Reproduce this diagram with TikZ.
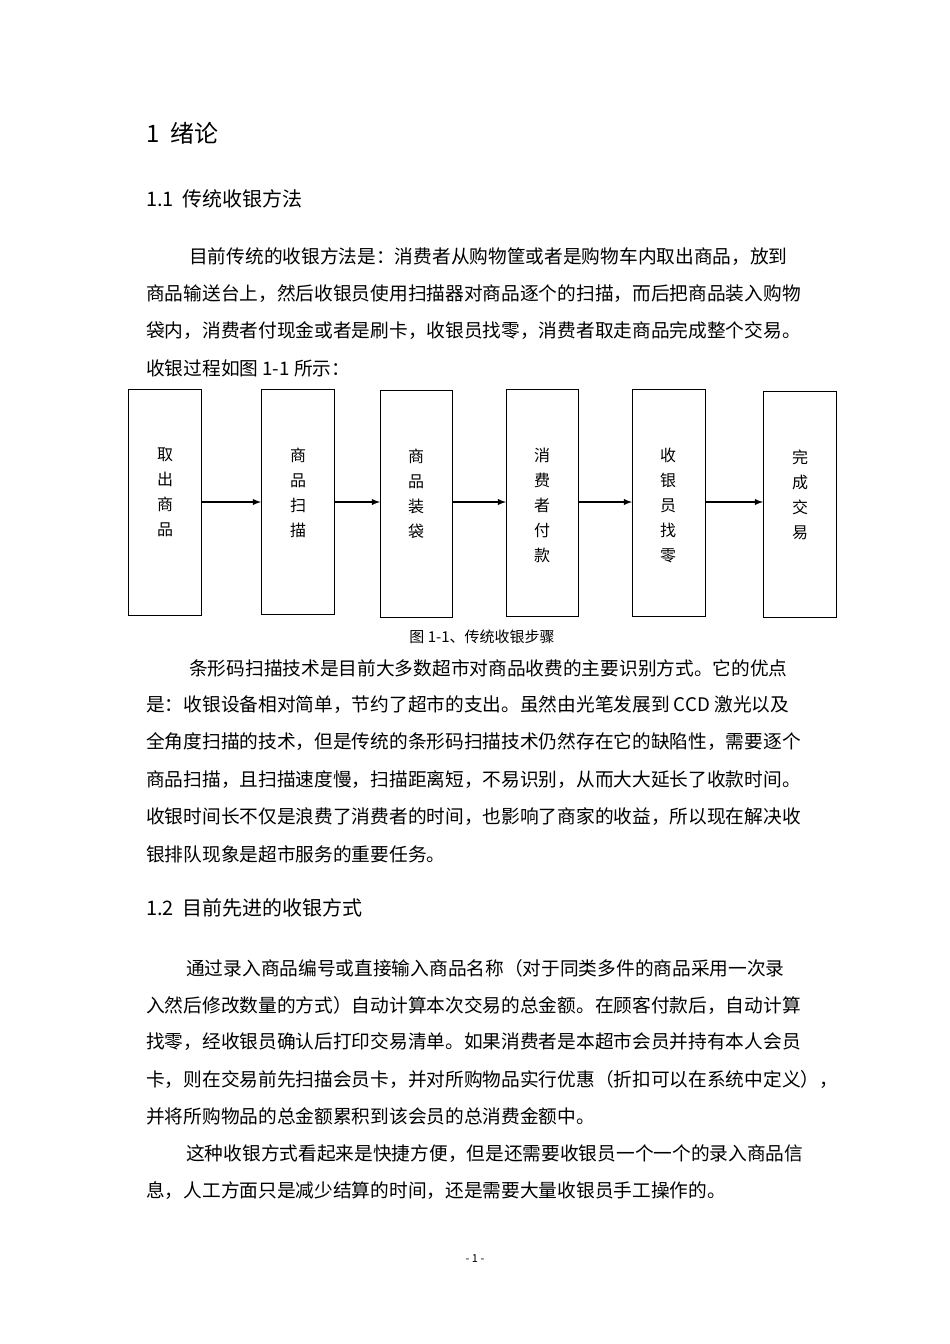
\documentclass[tikz,border=0pt]{standalone}
\usepackage{fontspec}
\setmainfont{Noto Sans CJK SC}
\begin{document}
\begin{tikzpicture}[x=1pt,y=-1pt,
  body/.style={anchor=west,inner sep=0,font=\fontsize{18.7}{20}\selectfont},
  stepbox/.style={draw,line width=0.9pt,minimum width=73pt,anchor=north west,inner sep=0},
  boxtxt/.style={align=center,anchor=north,inner sep=0,font=\fontsize{16}{25}\selectfont},
  arr/.style={-latex,line width=1.8pt}]
\useasboundingbox[fill=white] (0,0) rectangle (950,1344);
\node[body,font=\fontsize{24}{26}\selectfont] (h1) at (146,133) {1\ \ 绪论};
\node[body,font=\fontsize{20}{22}\selectfont] (h11) at (146,199) {1.1\ \ 传统收银方法};
\node[body] (p1) at (189,257) {目前传统的收银方法是：消费者从购物筐或者是购物车内取出商品，放到};
\node[body] (p2) at (146,294) {商品输送台上，然后收银员使用扫描器对商品逐个的扫描，而后把商品装入购物};
\node[body] (p3) at (146,331) {袋内，消费者付现金或者是刷卡，收银员找零，消费者取走商品完成整个交易。};
\node[body] (p4) at (146,368) {收银过程如图 1-1 所示：};
\node[stepbox,minimum height=226pt] (b1) at (128,389) {};
\node[stepbox,minimum height=225pt] (b2) at (261,389) {};
\node[stepbox,minimum height=227pt,minimum width=72pt] (b3) at (380,390) {};
\node[stepbox,minimum height=227pt,minimum width=72pt] (b4) at (506,389) {};
\node[stepbox,minimum height=227pt] (b5) at (632,389) {};
\node[stepbox,minimum height=226pt] (b6) at (763,391) {};
\node[boxtxt] (t1) at (165,448) {取\\出\\商\\品};
\node[boxtxt] (t2) at (298,448) {商\\品\\扫\\描};
\node[boxtxt] (t3) at (416,449) {商\\品\\装\\袋};
\node[boxtxt] (t4) at (542,448) {消\\费\\者\\付\\款};
\node[boxtxt] (t5) at (668,448) {收\\银\\员\\找\\零};
\node[boxtxt] (t6) at (800,450) {完\\成\\交\\易};
\draw[arr] (b1.east |- 0,502) -- (b2.west |- 0,502);
\draw[arr] (b2.east |- 0,502) -- (b3.west |- 0,502);
\draw[arr] (b3.east |- 0,502) -- (b4.west |- 0,502);
\draw[arr] (b4.east |- 0,502) -- (b5.west |- 0,502);
\draw[arr] (b5.east |- 0,502) -- (b6.west |- 0,502);
\node[inner sep=0,font=\fontsize{15}{16}\selectfont] (cap) at (482,637) {图 1-1、传统收银步骤};
\node[body] (q1) at (189,668) {条形码扫描技术是目前大多数超市对商品收费的主要识别方式。它的优点};
\node[body] (q2) at (146,705) {是：收银设备相对简单，节约了超市的支出。虽然由光笔发展到 CCD 激光以及};
\node[body] (q3) at (146,742) {全角度扫描的技术，但是传统的条形码扫描技术仍然存在它的缺陷性，需要逐个};
\node[body] (q4) at (146,780) {商品扫描，且扫描速度慢，扫描距离短，不易识别，从而大大延长了收款时间。};
\node[body] (q5) at (146,817) {收银时间长不仅是浪费了消费者的时间，也影响了商家的收益，所以现在解决收};
\node[body] (q6) at (146,854) {银排队现象是超市服务的重要任务。};
\node[body,font=\fontsize{20}{22}\selectfont] (h12) at (146,908) {1.2\ \ 目前先进的收银方式};
\node[body] (r1) at (186,968) {通过录入商品编号或直接输入商品名称（对于同类多件的商品采用一次录};
\node[body] (r2) at (146,1005) {入然后修改数量的方式）自动计算本次交易的总金额。在顾客付款后，自动计算};
\node[body] (r3) at (146,1042) {找零，经收银员确认后打印交易清单。如果消费者是本超市会员并持有本人会员};
\node[body] (r4) at (146,1079) {卡，则在交易前先扫描会员卡，并对所购物品实行优惠（折扣可以在系统中定义），};
\node[body] (r5) at (146,1116) {并将所购物品的总金额累积到该会员的总消费金额中。};
\node[body] (s1) at (186,1154) {这种收银方式看起来是快捷方便，但是还需要收银员一个一个的录入商品信};
\node[body] (s2) at (146,1191) {息，人工方面只是减少结算的时间，还是需要大量收银员手工操作的。};
\node[inner sep=0,font=\fontsize{11}{12}\selectfont] (pg) at (475,1259) {- 1 -};
\end{tikzpicture}
\end{document}
